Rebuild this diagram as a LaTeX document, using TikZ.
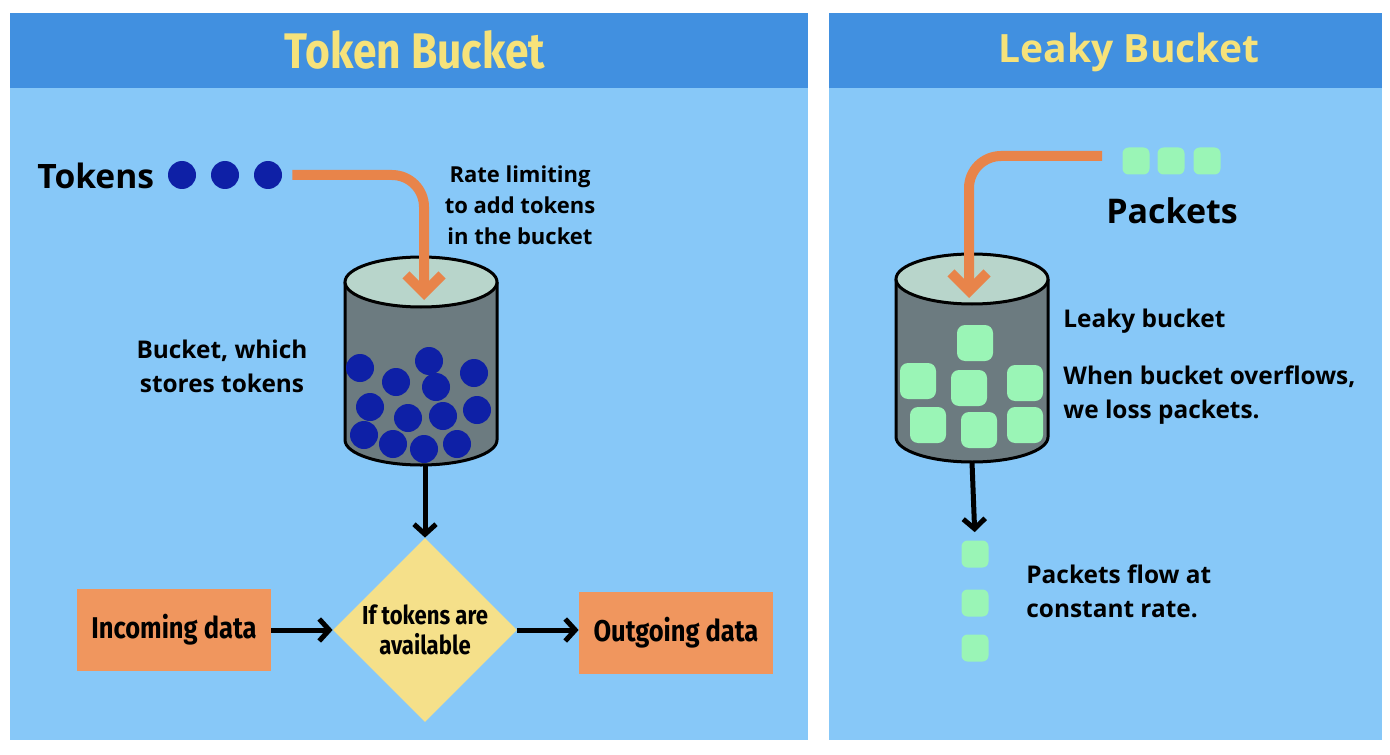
\documentclass[tikz,border=0pt]{standalone}
\usepackage{fontspec}
\setmainfont{Open Sans}
\newfontfamily\condfont[FakeStretch=0.85]{Fira Sans}
\usetikzlibrary{arrows.meta,shapes.geometric,positioning}

\definecolor{headblue}{RGB}{65,144,224}
\definecolor{bodyblue}{RGB}{135,200,248}
\definecolor{titleyellow}{RGB}{246,226,122}
\definecolor{arroworange}{RGB}{232,132,74}
\definecolor{boxorange}{RGB}{240,150,94}
\definecolor{diamondyellow}{RGB}{245,224,138}
\definecolor{bucketgray}{RGB}{108,123,128}
\definecolor{bucketlid}{RGB}{184,213,203}
\definecolor{tokenblue}{RGB}{14,32,166}
\definecolor{packetgreen}{RGB}{154,245,182}

% #1 name, (#2,#3) centre of the lid
\newcommand{\bucket}[3]{%
  \fill[bucketgray] (#2-76,#3) -- (#2-76,#3+158)
    arc[start angle=180,end angle=360,x radius=38pt,y radius=12.5pt] -- (#2+76,#3) -- cycle;
  \draw[line width=1.5pt] (#2-76,#3) -- (#2-76,#3+158)
    arc[start angle=180,end angle=360,x radius=38pt,y radius=12.5pt] -- (#2+76,#3);
  \filldraw[fill=bucketlid,line width=1.5pt] (#2,#3) ellipse[x radius=38pt,y radius=12.5pt];
  \coordinate (#1-top) at (#2,#3);
  \coordinate (#1-bottom) at (#2,#3+183);
}

\begin{document}
\begin{tikzpicture}
	  [x=0.5pt,y=-0.5pt,
	   token/.style={circle,fill=tokenblue,minimum size=14pt,inner sep=0},
	   packet/.style={fill=packetgreen,rounded corners=3pt,minimum size=13.5pt,inner sep=0},
	   bigpacket/.style={packet,minimum size=18pt,rounded corners=4pt},
	   label/.style={inner sep=0,font=\fontsize{12.2}{17}\selectfont\bfseries},
	   databox/.style={fill=boxorange,minimum width=97pt,minimum height=41pt,
	     font=\condfont\fontsize{15}{18}\selectfont\bfseries},
	   check/.style={diamond,fill=diamondyellow,minimum size=92pt,inner sep=0,align=center,
	     font=\condfont\fontsize{13}{15}\selectfont\bfseries},
	   flow/.style={draw=arroworange,line width=5pt,rounded corners=16pt,
	     -{Straight Barb[length=9pt,width=18pt]}},
	   link/.style={line width=2.5pt,-{Straight Barb[length=5pt,width=11pt]}}]
	\useasboundingbox (0,0) rectangle (1390,754);
	\fill[white] (0,0) rectangle (1390,754);

	% panels
	\fill[bodyblue] (10,13) rectangle (808,740);
	\fill[headblue] (10,13) rectangle (808,88);
	\fill[bodyblue] (829,13) rectangle (1382,740);
	\fill[headblue] (829,13) rectangle (1382,88);
	\node[text=titleyellow,font=\condfont\fontsize{25}{28}\selectfont\bfseries] (title1) at (415,50) {Token Bucket};
	\node[text=titleyellow,font=\fontsize{19.5}{24}\selectfont\bfseries] (title2) at (1129,52) {Leaky Bucket};

	% token bucket
	\node[inner sep=0,anchor=west,font=\fontsize{16.8}{20}\selectfont\bfseries] (tokens) at (37,176) {Tokens};
	\foreach \x [count=\i] in {182,225,268}
	  \node[token] (t\i) at (\x,175) {};
	\node[label,align=center,font=\fontsize{11}{15.5}\selectfont\bfseries] (rate) at (520,205)
	  {Rate limiting\\to add tokens\\in the bucket};

	\bucket{lb}{421}{282}
	\foreach \x/\y [count=\i] in {360/368,396/382,429/361,436/387,474/373,370/407,408/418,
	    443/416,477/410,364/435,393/444,424/449,457/444}
	  \node[token] (k\i) at (\x,\y) {};
	\coordinate (lb-in) at (424,300);
	\draw[flow] ([xshift=5pt]t3.east) -| (lb-in);
	\node[label,align=center] (store) at (222,366) {Bucket, which\\stores tokens};

	\node[check] (check) at (425,630) {If tokens are\\available};
	\node[databox] (incoming) at (174,630) {Incoming data};
	\node[databox] (outgoing) at (676,633) {Outgoing data};
	\draw[link] (check.north |- lb-bottom) -- (check.north);
	\draw[link] (incoming.east) -- (check.west);
	\draw[link] (check.east) -- (check.east -| outgoing.west);

	% leaky bucket
	\foreach \x [count=\i] in {1136,1171,1207}
	  \node[packet] (p\i) at (\x,161) {};
	\node[inner sep=0,font=\fontsize{17}{20}\selectfont\bfseries] (packets) at (1172,211) {Packets};

	\bucket{rb}{972}{279}
	\foreach \x/\y [count=\i] in {975/343,918/381,969/388,1025/383,928/425,979/430,1025/425}
	  \node[bigpacket] (b\i) at (\x,\y) {};
	\coordinate (rb-in) at (969,298);
	\draw[flow] ([xshift=-10pt,yshift=2.5pt]p1.west) -| (rb-in);
	\node[label,anchor=west] (leaky) at (1063,321) {Leaky bucket};
	\node[label,anchor=west,align=left] (overflow) at (1063,395)
	  {When bucket overflows,\\we loss packets.};

	\foreach \y [count=\i] in {554,603,648}
	  \node[packet] (o\i) at (975,\y) {};
	\draw[link,shorten >=4pt] (rb-bottom) -- (o1.north);
	\node[label,anchor=west,align=left] (rate2) at (1026,591) {Packets flow at\\constant rate.};
	\end{tikzpicture}
\end{document}
